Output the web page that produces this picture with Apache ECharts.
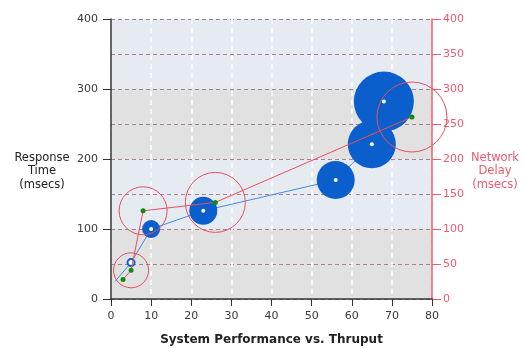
<!DOCTYPE html>
<html><head><meta charset="utf-8">
<script src="https://cdn.jsdelivr.net/npm/echarts@6/dist/echarts.min.js"></script>
<style>html,body{margin:0;padding:0;background:#fff}#c{width:523px;height:348px}</style>
</head><body><div id="c"></div>
<script>
// Response time (blue bubbles)
var respX = [1, 5, 10, 23, 56, 65, 68];
var respY = [25, 52, 100, 126, 170, 221, 282];
var respWeight = [0, 9, 18, 28, 38, 48, 60];
// Network delay (red circles)
var delayX = [3, 5, 8, 26, 75];
var delayY = [28, 41, 126, 138, 260];
var delayWeight = [0, 35, 48, 60, 70];
var xTicks = [0, 10, 20, 30, 40, 50, 60, 70, 80];
var leftTicks = [0, 100, 200, 300, 400];
var rightTicks = [0, 50, 100, 150, 200, 250, 300, 350, 400];
var xTitle = 'System Performance vs. Thruput';
var leftTitle = 'Response\nTime\n(msecs)';
var rightTitle = 'Network\nDelay\n(msecs)';

var FONT = 'DejaVu Sans';
var BLUE = '#0b5fcd', BLUELINE = '#3d8ee3', RED = '#e8505f', RRED = '#ee5a6e', GREEN = '#118a11';

function pairs(xs, ys, ws) {
  return xs.map(function (x, i) { return ws ? [x, ys[i], ws[i]] : [x, ys[i]]; });
}
var respPts = pairs(respX, respY, respWeight);
var delayPts = pairs(delayX, delayY, delayWeight);

var chart = echarts.init(document.getElementById('c'), null, {renderer: 'canvas'});
chart.setOption({
  animation: false,
  backgroundColor: '#fff',
  grid: {left: 111, right: 91, top: 19, bottom: 49, containLabel: false, outerBoundsMode: 'none'},
  graphic: [{
    type: 'text', x: 42, y: 151,
    style: {text: leftTitle, font: '11.5px "DejaVu Sans"', fill: '#222', align: 'center', verticalAlign: 'top', lineHeight: 13.5}
  }, {
    type: 'text', x: 495, y: 151,
    style: {text: rightTitle, font: '11.5px "DejaVu Sans"', fill: RRED, align: 'center', verticalAlign: 'top', lineHeight: 13.5}
  }],
  xAxis: {
    type: 'value', min: xTicks[0], max: xTicks[xTicks.length - 1], interval: 10,
    name: xTitle, nameLocation: 'middle', nameGap: 35,
    nameTextStyle: {fontFamily: FONT, fontWeight: 'bold', fontSize: 12, color: '#222'},
    axisLine: {lineStyle: {color: '#333', width: 1.5}},
    axisTick: {show: true, length: 7, lineStyle: {color: '#333'}},
    axisLabel: {fontFamily: FONT, fontSize: 11, color: '#3a3a3a', margin: 12},
    splitLine: {show: true, lineStyle: {color: '#ffffff', type: [5, 4], width: 1.5}}
  },
  yAxis: [{
    type: 'value', min: leftTicks[0], max: leftTicks[leftTicks.length - 1], interval: 100,
    position: 'left',
    axisLine: {show: true, lineStyle: {color: '#333', width: 1.5}},
    axisTick: {show: true, length: 8, lineStyle: {color: '#333'}},
    axisLabel: {fontFamily: FONT, fontSize: 11, color: '#3a3a3a', margin: 13},
    splitLine: {show: false},
    splitArea: {show: true, areaStyle: {color: ['#e1e1e1', '#e6ebf2']}}
  }, {
    type: 'value', min: rightTicks[0], max: rightTicks[rightTicks.length - 1], interval: 50,
    position: 'right',
    axisLine: {show: true, lineStyle: {color: RRED, width: 1.5}},
    axisTick: {show: true, length: 9, lineStyle: {color: RRED}},
    axisLabel: {fontFamily: FONT, fontSize: 11, color: RRED, margin: 11},
    splitLine: {show: true, lineStyle: {color: '#a5808f', type: [4, 3], width: 1}},
    splitArea: {show: false}
  }],
  series: [{
    type: 'line', data: respPts, yAxisIndex: 0, symbol: 'none', z: 2,
    lineStyle: {color: BLUELINE, width: 1}
  }, {
    type: 'scatter', data: respPts, yAxisIndex: 0, z: 3,
    symbolSize: function (v) { return v[2]; },
    itemStyle: {color: BLUE, opacity: 1}
  }, {
    type: 'scatter', data: respPts.slice(1), yAxisIndex: 0, z: 4,
    symbolSize: function (v) { return v[2] < 12 ? 5 : 4; },
    itemStyle: {color: '#ffffff', opacity: 1}
  }, {
    type: 'scatter', data: delayPts, yAxisIndex: 1, z: 5,
    symbolSize: function (v) { return v[2]; },
    itemStyle: {color: 'rgba(0,0,0,0)', borderColor: RED, borderWidth: 1, opacity: 1}
  }, {
    type: 'line', data: delayPts, yAxisIndex: 1, z: 6,
    symbol: 'circle', symbolSize: 5, showSymbol: true,
    lineStyle: {color: RED, width: 1},
    itemStyle: {color: GREEN, borderWidth: 0}
  }]
});
</script></body></html>
